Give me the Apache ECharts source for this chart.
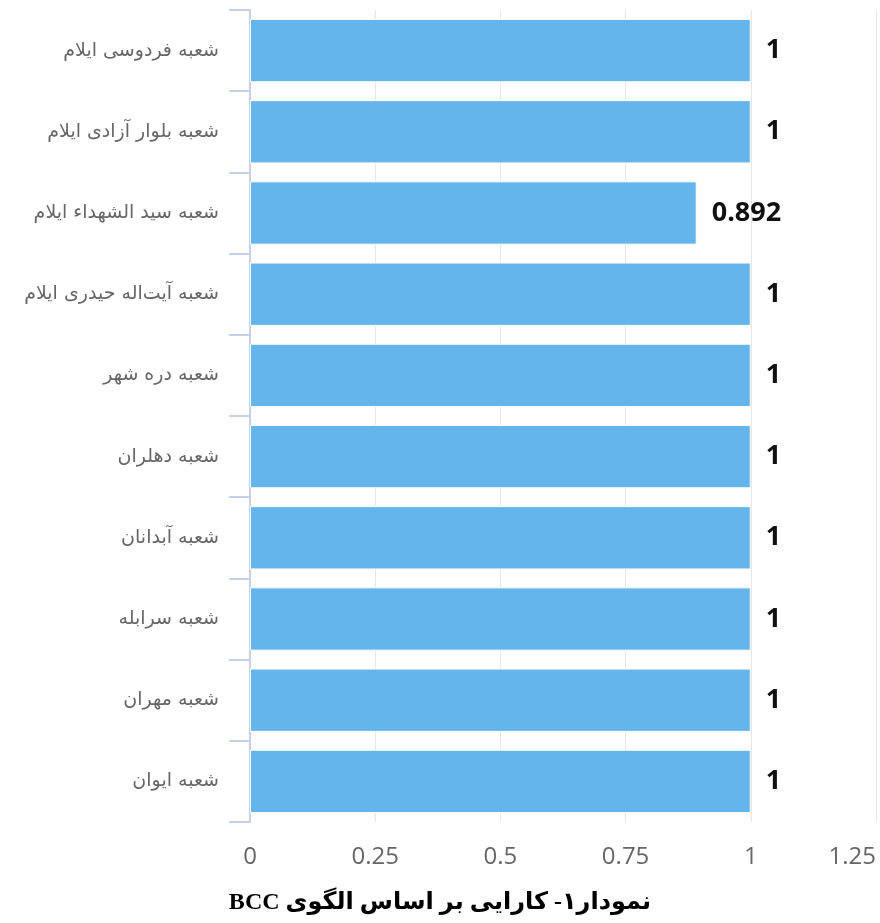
<!DOCTYPE html>
<html>
<head>
    <meta charset="utf-8">
    <title>BCC</title>
    <script src="https://cdn.jsdelivr.net/npm/echarts@6/dist/echarts.min.js"></script>
    <style>
        html, body { margin: 0; padding: 0; background: #fff; }
        #chart { width: 880px; height: 923px; }
    </style>
</head>
<body>
    <div id="chart"></div>
    <script>
        // شعبه‌ها از بالا به پایین
        const branches = [
            'شعبه فردوسی ایلام',
            'شعبه بلوار آزادی ایلام',
            'شعبه سید الشهداء ایلام',
            'شعبه آیت‌اله حیدری ایلام',
            'شعبه دره شهر',
            'شعبه دهلران',
            'شعبه آبدانان',
            'شعبه سرابله',
            'شعبه مهران',
            'شعبه ایوان'
        ];
        const efficiency = [1, 1, 0.892, 1, 1, 1, 1, 1, 1, 1];
        const titleText = 'نمودار۱- کارایی بر اساس الگوی BCC';

        const chart = echarts.init(document.getElementById('chart'));

        chart.setOption({
            animation: false,
            title: {
                // RLE ... PDF so the Latin part sits on the left like the source
                text: '\u202B' + titleText + '\u202C',
                left: 'center',
                top: 886,
                textStyle: {
                    fontFamily: "'Liberation Serif', 'DejaVu Sans', serif",
                    fontWeight: 'bold',
                    fontSize: 24,
                    color: '#000'
                }
            },
            grid: { left: 250, right: 4, top: 10, bottom: 101, outerBoundsMode: 'none' },
            xAxis: {
                type: 'value',
                min: 0,
                max: 1.25,
                interval: 0.25,
                axisLine: { show: false },
                axisTick: { show: false },
                splitLine: { lineStyle: { color: '#e6e6e6', width: 1 } },
                axisLabel: {
                    color: '#666',
                    fontSize: 24,
                    margin: 23,
                    fontFamily: "'Open Sans', sans-serif",
                    hideOverlap: false,
                    alignMaxLabel: 'right'
                }
            },
            yAxis: {
                type: 'category',
                data: branches,
                inverse: true,
                axisLine: { show: true, onZero: false, lineStyle: { color: '#c5d1e6', width: 2 } },
                axisTick: { show: true, length: 21, lineStyle: { color: '#c5d1e6', width: 2 } },
                splitLine: { show: false },
                axisLabel: {
                    color: '#666',
                    fontSize: 19,
                    margin: 31,
                    fontFamily: "'DejaVu Sans', sans-serif"
                }
            },
            series: [{
                type: 'bar',
                data: efficiency,
                barCategoryGap: '22%',
                itemStyle: { color: '#63b5ec', borderColor: '#ffffff', borderWidth: 1 },
                label: {
                    show: true,
                    position: 'right',
                    distance: 15,
                    color: '#111',
                    fontSize: 27,
                    fontWeight: 'bold',
                    fontFamily: "'Open Sans', sans-serif"
                }
            }]
        });
    </script>
</body>
</html>
